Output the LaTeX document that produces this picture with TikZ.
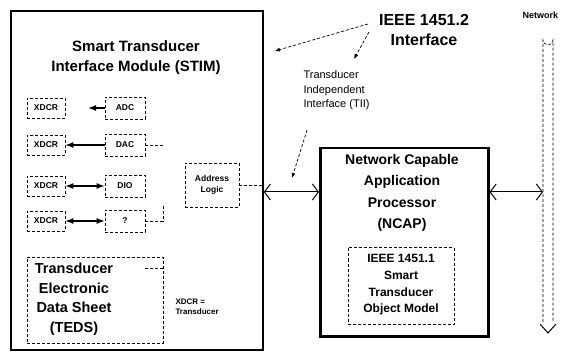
\documentclass[tikz,border=0pt]{standalone}
\usepackage{fontspec}
\setmainfont{Liberation Sans}
\usetikzlibrary{arrows.meta}
\begin{document}
\begin{tikzpicture}[x=1pt,y=-1pt,
  dbox/.style={draw, densely dashed, line width=0.6pt, inner sep=0pt, font=\fontsize{8.5}{10}\selectfont\bfseries},
  smallbox/.style={dbox, minimum width=38pt, minimum height=20pt},
  conv/.style={dbox, minimum width=40pt, minimum height=22pt},
  harrow/.style={line width=1.4pt, -{Latex[length=8pt,width=6pt]}},
  darrow/.style={line width=1.4pt, {Latex[length=8pt,width=6pt]}-{Latex[length=8pt,width=6pt]}},
  barb/.style={line width=1pt, {Straight Barb[length=6pt,width=16pt]}-{Straight Barb[length=6pt,width=16pt]}},
  callout/.style={densely dashed, line width=0.7pt, -{Latex[length=5pt,width=4pt]}},
  dline/.style={densely dashed, line width=0.6pt}
]
\useasboundingbox (0,0) rectangle (561,352);

% STIM
\node[draw, line width=1.8pt, minimum width=252pt, minimum height=339pt, anchor=north west, inner sep=0pt] (stim) at (10,10) {};
\node[font=\fontsize{15}{20}\selectfont\bfseries, align=center] (title) at (136,58) {Smart Transducer\\Interface Module (STIM)};

% rows
\node[smallbox] (x1) at (46,108) {XDCR};
\node[conv] (adc) at (125,108) {ADC};
\coordinate (r1) at (88,108);
\draw[harrow] (adc.west) -- (r1);

\node[smallbox] (x2) at (46,145) {XDCR};
\node[conv] (dac) at (125,145) {DAC};
\coordinate (r2) at (163,145);
\draw[harrow] (dac.west) -- (x2.east);
\draw[dline] (dac.east) -- (r2);

\node[smallbox] (x3) at (46,186) {XDCR};
\node[conv] (dio) at (125,186) {DIO};
\draw[darrow] (x3.east) -- (dio.west);

\node[smallbox] (x4) at (46,221) {XDCR};
\node[conv] (unk) at (125,221) {?};
\coordinate (r4) at (163,221);
\coordinate (r4b) at (163,205);
\draw[darrow] (x4.east) -- (unk.west);
\draw[dline] (unk.east) -- (r4) -- (r4b);

% TEDS
\node[dbox, minimum width=136pt, minimum height=86pt, anchor=north west] (teds) at (27,257) {};
\node[font=\fontsize{14.5}{19.5}\selectfont\bfseries, align=center] (tedst) at (74,299) {Transducer\\Electronic\\Data Sheet\\(TEDS)};
\coordinate (t1) at (145,268);
\coordinate (t2) at (163,268);
\draw[dline] (t1) -- (t2);
\node[font=\fontsize{8}{10}\selectfont\bfseries, align=left, anchor=west] (xeq) at (172,307) {XDCR =\\Transducer};

% Address logic
\node[dbox, minimum width=54pt, minimum height=44pt, font=\fontsize{8.5}{11}\selectfont\bfseries, align=center] (addr) at (212,185) {Address\\Logic};
\draw[dline] (addr.east) -- (addr.east -| stim.east);

% NCAP
\node[draw, line width=2.5pt, minimum width=168pt, minimum height=188pt, anchor=north west, inner sep=0pt] (ncap) at (319,147) {};
\node[font=\fontsize{14}{21.5}\selectfont\bfseries, align=center] (ncapt) at (402,193) {Network Capable\\Application\\Processor\\(NCAP)};
\node[dbox, minimum width=106pt, minimum height=77pt] (model) at (401,286) {};
\node[font=\fontsize{12}{16.7}\selectfont\bfseries, align=center] (modelt) at (401,285) {IEEE 1451.1\\Smart\\Transducer\\Object Model};

% bus
\coordinate (ln) at (0,192);
\draw[barb] (stim.east |- ln) -- (ncap.west |- ln);
\draw[dline] (543,322) -- (543,40) arc[start angle=180, end angle=0, radius=5] -- (553,322);
\draw[line width=1pt] (540,324) -- (548,333) -- (556,324);
\coordinate (bus) at (543,192);
\draw[barb] (ncap.east |- ln) -- (bus);
\node[font=\fontsize{9}{10}\selectfont\bfseries, anchor=west] (net) at (519,15) {Network};

% IEEE 1451.2 interface
\node[font=\fontsize{16}{20}\selectfont\bfseries, align=center] (ieee) at (424,30) {IEEE 1451.2\\Interface};
\coordinate (c1a) at (368,24);
\coordinate (c1b) at (275,51);
\coordinate (c2a) at (369,32);
\coordinate (c2b) at (354,59);
\draw[callout] (c1a) -- (c1b);
\draw[callout] (c2a) -- (c2b);

% TII
\node[font=\fontsize{11}{14.5}\selectfont, align=left, anchor=north west] (tii) at (300,67) {Transducer\\Independent\\Interface (TII)};
\coordinate (c3a) at (307,130);
\coordinate (c3b) at (292,178);
\draw[callout] (c3a) -- (c3b);
\end{tikzpicture}
\end{document}
